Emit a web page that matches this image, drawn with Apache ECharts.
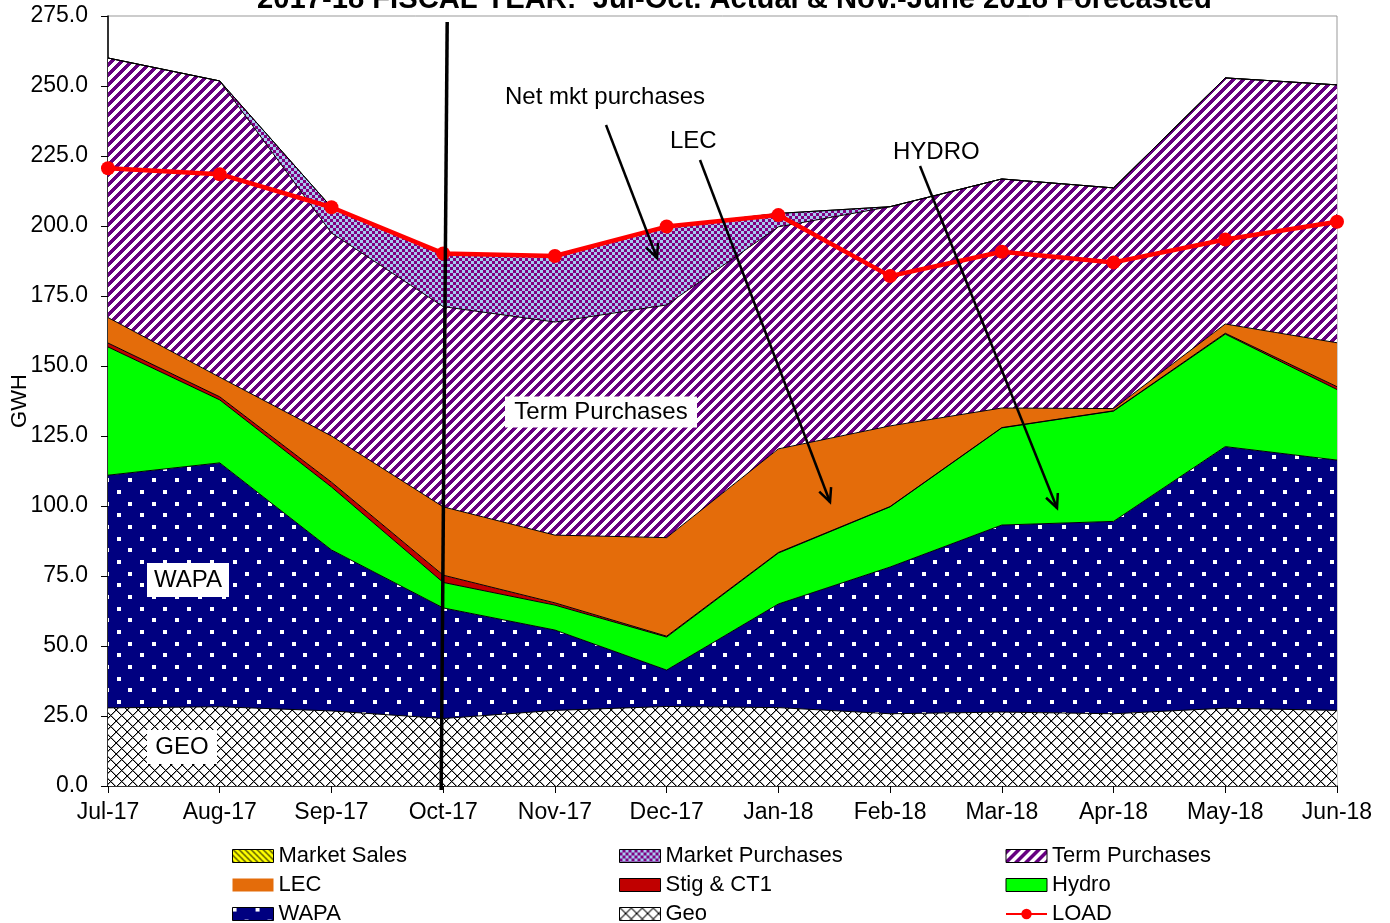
<!DOCTYPE html>
<html>
<head>
<meta charset="utf-8">
<script src="https://cdn.jsdelivr.net/npm/echarts@6/dist/echarts.min.js"></script>
<style>
  html, body { margin: 0; padding: 0; background: #fff; }
  #chart { width: 1390px; height: 923px; }
</style>
</head>
<body>
<div id="chart"></div>
<script>
// Monthly energy supply by resource (GWH), stacked bottom to top, plus system load.
const months = ['Jul-17', 'Aug-17', 'Sep-17', 'Oct-17', 'Nov-17', 'Dec-17',
                'Jan-18', 'Feb-18', 'Mar-18', 'Apr-18', 'May-18', 'Jun-18'];
const geo             = [27.9, 28.3, 26.8, 24.1, 27.0, 28.4, 28.0, 25.8, 26.4, 25.8, 27.8, 27.0];
const wapa            = [83.1, 87.1, 57.5, 39.5, 28.7, 13.0, 37.0, 52.4, 66.8, 68.7, 93.4, 89.4];
const hydro           = [45.8, 22.5, 22.5,  9.1,  8.9, 11.8, 18.2, 21.5, 34.7, 39.4, 40.2, 25.2];
const stigCt1         = [ 1.4,  1.1,  1.7,  2.6,  0.8,  0.3,  0.2,  0.1,  0.1,  0.1,  0.3,  1.0];
const lec             = [ 9.1,  7.0, 16.5, 24.4, 24.2, 35.2, 37.0, 28.8,  7.0,  0.8,  3.3, 15.7];
const termPurchases   = [92.7, 105.8, 72.5, 71.5, 76.1, 83.1, 79.3, 78.3, 81.8, 78.8, 87.9, 92.1];
const marketPurchases = [ 0,    0,    9.2, 19.0, 23.6, 28.0,  4.8,  0,    0,    0,    0,    0  ];
const marketSales     = [ 0,    0,    0,    0,    0,    0,    0,    0,    0,    0,    0,    0  ];
const load            = [220.6, 218.5, 206.7, 190.2, 189.3, 199.8, 203.9, 182.1, 190.8, 187.0, 195.2, 201.5];
const yMin = 0, yMax = 275, yStep = 25;

const FONT = "'Liberation Sans', Arial, Helvetica, sans-serif";

// ---- fill patterns (pixel tiles) ----
function hexRgb(h) {
  const n = parseInt(h.slice(1), 16);
  return [(n >> 16) & 255, (n >> 8) & 255, n & 255];
}
function pixelTile(w, h, fn) {
  const c = document.createElement('canvas');
  c.width = w; c.height = h;
  const ctx = c.getContext('2d');
  const img = ctx.createImageData(w, h);
  for (let y = 0; y < h; y++) {
    for (let x = 0; x < w; x++) {
      const rgb = hexRgb(fn(x, y));
      const i = (y * w + x) * 4;
      img.data[i] = rgb[0]; img.data[i + 1] = rgb[1]; img.data[i + 2] = rgb[2]; img.data[i + 3] = 255;
    }
  }
  ctx.putImageData(img, 0, 0);
  return { image: c, repeat: 'repeat' };
}

const PURPLE = '#660080';
const termFill = pixelTile(10, 10, (x, y) => ((x + y) % 10) < 5 ? PURPLE : '#FFFFFF');
const mktBuyFill = pixelTile(6, 6, (x, y) => ((Math.floor(x / 3) + Math.floor(y / 3)) % 2) ? '#800080' : '#A6CAF0');
const mktSellFill = pixelTile(6, 6, (x, y) => ((x - y + 6) % 6) < 2 ? '#555500' : '#FFFF00');
const geoFill = pixelTile(11, 11, (x, y) => {
  const a = (x + y) % 11, b = (x - y + 11) % 11;
  if (a === 0 || b === 0) return '#000000';
  if (a === 1 || b === 1) return '#9A9A9A';
  return '#FFFFFF';
});
const wapaFill = (function () {
  const evenRows = [0, 23, 47], oddRows = [12, 35, 58];
  const spots = [];
  evenRows.forEach(r => evenRows.forEach(c => spots.push([c, r])));
  oddRows.forEach(r => oddRows.forEach(c => spots.push([c, r])));
  return pixelTile(70, 70, (x, y) => {
    for (const [sx, sy] of spots) {
      if (x >= sx && x < sx + 4 && y >= sy && y < sy + 4) return '#FFFFFF';
    }
    return '#000080';
  });
})();

const fills = {
  'Geo': geoFill,
  'WAPA': wapaFill,
  'Hydro': '#00FF00',
  'Stig & CT1': '#C00000',
  'LEC': '#E46C0A',
  'Term Purchases': termFill,
  'Market Purchases': mktBuyFill,
  'Market Sales': mktSellFill
};

function areaSeries(name, data) {
  return {
    name: name, type: 'line', stack: 'supply', data: data,
    symbol: 'none', showSymbol: false, silent: true,
    itemStyle: { color: fills[name] },
    lineStyle: { color: '#000000', width: 1 },
    areaStyle: { color: fills[name], opacity: 1 },
    emphasis: { disabled: true },
    z: 2
  };
}

function legendItem(name) {
  if (name === 'LOAD') return { name: name };
  return {
    name: name, icon: 'rect',
    itemStyle: {
      color: fills[name],
      borderColor: name === 'LEC' ? 'rgba(0,0,0,0)' : '#000000',
      borderWidth: name === 'LEC' ? 0 : 1
    }
  };
}
const legendColumns = [
  ['Market Sales', 'LEC', 'WAPA'],
  ['Market Purchases', 'Stig & CT1', 'Geo'],
  ['Term Purchases', 'Hydro', 'LOAD']
];
const legendLefts = [232, 619, 1005];

const chart = echarts.init(document.getElementById('chart'), null, { renderer: 'canvas' });

chart.setOption({
  animation: false,
  backgroundColor: '#FFFFFF',
  title: {
    text: '2017-18 FISCAL YEAR:  Jul-Oct. Actual & Nov.-June 2018 Forecasted',
    left: 257, top: -15, padding: 0,
    textStyle: { fontFamily: FONT, fontSize: 29.2, fontWeight: 'bold', color: '#000' }
  },
  grid: {
    left: 108, right: 53, top: 16, bottom: 137,
    containLabel: false, outerBoundsMode: 'none',
    show: true, borderColor: '#999999', borderWidth: 1, backgroundColor: 'rgba(0,0,0,0)'
  },
  legend: legendColumns.map((col, i) => ({
    orient: 'vertical', left: legendLefts[i], top: 845, height: 120,
    itemWidth: 41, itemHeight: 13, itemGap: 7, padding: 0,
    selectedMode: false,
    textStyle: { fontFamily: FONT, fontSize: 22, lineHeight: 20, color: '#000' },
    data: col.map(legendItem)
  })),
  xAxis: {
    type: 'category', data: months, boundaryGap: false,
    axisLine: { lineStyle: { color: '#000', width: 1.5 } },
    axisTick: { show: true, interval: 0, length: 7, lineStyle: { color: '#000' } },
    axisLabel: { interval: 0, fontFamily: FONT, fontSize: 23, color: '#000', margin: 15 },
    splitLine: { show: false }
  },
  yAxis: {
    type: 'value', min: yMin, max: yMax, interval: yStep,
    name: 'GWH', nameLocation: 'middle', nameGap: 77, nameRotate: 90, nameMoveOverlap: false,
    nameTextStyle: { fontFamily: FONT, fontSize: 22, color: '#000' },
    axisLine: { show: true, lineStyle: { color: '#000', width: 1.5 } },
    axisTick: { show: true, length: 7, lineStyle: { color: '#000' } },
    axisLabel: { fontFamily: FONT, fontSize: 23, color: '#000', margin: 20, formatter: v => v.toFixed(1) },
    splitLine: { show: false }
  },
  series: [
    areaSeries('Geo', geo),
    areaSeries('WAPA', wapa),
    areaSeries('Hydro', hydro),
    areaSeries('Stig & CT1', stigCt1),
    areaSeries('LEC', lec),
    areaSeries('Term Purchases', termPurchases),
    areaSeries('Market Purchases', marketPurchases),
    areaSeries('Market Sales', marketSales),
    {
      name: 'LOAD', type: 'line', data: load, silent: true, clip: false,
      symbol: 'circle', symbolSize: 14,
      itemStyle: { color: '#FF0000' },
      lineStyle: { color: '#FF0000', width: 4.5 },
      emphasis: { disabled: true },
      z: 5
    }
  ]
});

// ---- annotations: actual/forecast divider, labels and arrows ----
function arrow(sx, sy, tx, ty) {
  const len = Math.hypot(tx - sx, ty - sy);
  const ux = (tx - sx) / len, uy = (ty - sy) / len;
  const L = 15, a = 25 * Math.PI / 180;
  const arm = s => [tx - L * (ux * Math.cos(a) - s * uy * Math.sin(a)),
                    ty - L * (uy * Math.cos(a) + s * ux * Math.sin(a))];
  const p1 = arm(1), p2 = arm(-1);
  const st = { stroke: '#000', lineWidth: 2.5 };
  return [
    { type: 'line', z: 100, silent: true, shape: { x1: sx, y1: sy, x2: tx, y2: ty }, style: st },
    { type: 'polyline', z: 100, silent: true, shape: { points: [p1, [tx, ty], p2] }, style: st }
  ];
}
function plainText(text, x, y) {
  return { type: 'text', z: 100, silent: true, x: x, y: y,
    style: { text: text, font: '24px ' + FONT, fill: '#000', align: 'left', verticalAlign: 'middle' } };
}
function boxedText(text, cx, cy, w, h) {
  return [
    { type: 'rect', z: 99, silent: true, shape: { x: cx - w / 2, y: cy - h / 2, width: w, height: h }, style: { fill: '#FFFFFF' } },
    { type: 'text', z: 100, silent: true, x: cx, y: cy,
      style: { text: text, font: '24px ' + FONT, fill: '#000', align: 'center', verticalAlign: 'middle' } }
  ];
}

const octX = chart.convertToPixel({ xAxisIndex: 0 }, 'Oct-17');
const elements = [].concat(
  [{ type: 'line', z: 101, silent: true, shape: { x1: octX + 4, y1: 22, x2: octX - 2, y2: 790 }, style: { stroke: '#000', lineWidth: 3.5 } }],
  [plainText('Net mkt purchases', 505, 97), plainText('LEC', 670, 141), plainText('HYDRO', 893, 152)],
  arrow(606, 125, 657, 258),
  arrow(700, 160, 830, 502),
  arrow(920, 166, 1057, 508),
  boxedText('Term Purchases', 601, 412, 192, 31),
  boxedText('WAPA', 188, 580, 82, 34),
  boxedText('GEO', 182, 747, 70, 34)
);
chart.setOption({ graphic: { elements: elements } });
</script>
</body>
</html>
